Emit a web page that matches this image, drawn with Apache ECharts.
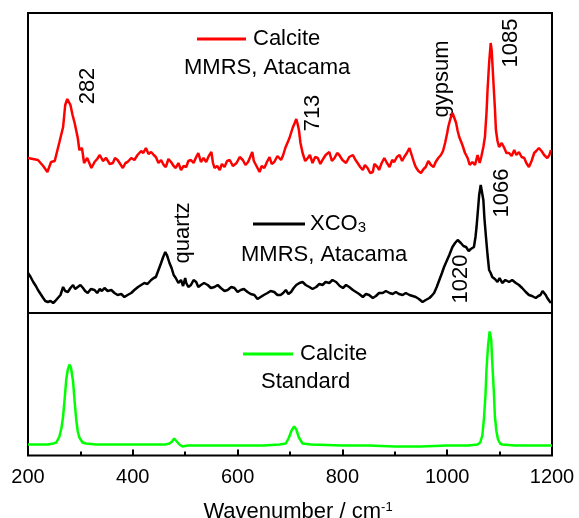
<!DOCTYPE html>
<html>
<head>
<meta charset="utf-8">
<script src="https://cdn.jsdelivr.net/npm/echarts@6/dist/echarts.min.js"></script>
<style>
html,body{margin:0;padding:0;background:#fff;}
#chart{width:579px;height:518px;}
</style>
</head>
<body>
<div id="chart"></div>
<script>
// ---------- data (wavenumber cm-1, relative intensity, offset spectra) ----------
const xTicks = [200, 400, 600, 800, 1000, 1200];

const calciteMMRS = [
[200,155],[219,153],[229,147],[237,141],[244,151],[251,152],[260,171],[267,186],[271,208],[275,214],[278,216],[281,208],
[285,198],[289,190],[295,175],[298,163],[303,165],[307,150],[313,155],[317,150],[321,145],[327,151],[332,154],[337,158],
[343,152],[349,155],[356,149],[362,150],[366,155],[371,153],[376,149],[381,145],[386,150],[390,151],[397,155],[403,153],
[409,158],[416,162],[420,160],[425,165],[430,159],[435,161],[440,158],[444,156],[449,150],[454,153],[459,148],[463,146],
[468,154],[473,151],[478,147],[482,145],[487,150],[492,143],[497,147],[502,146],[506,152],[511,153],[516,150],[521,156],
[525,160],[530,151],[535,155],[540,151],[545,157],[550,161],[553,150],[556,145],[561,147],[566,143],[570,149],[575,146],
[580,152],[585,153],[591,147],[598,150],[604,156],[610,153],[615,148],[620,151],[624,156],[628,161],[631,152],[634,150],
[638,145],[642,141],[646,147],[651,145],[656,151],[661,156],[665,149],[670,151],[676,157],[683,153],[687,158],[691,165],
[695,170],[699,175],[702,180],[705,185],[709,190],[712,194],[715,188],[717,183],[720,170],[724,160],[729,152],[734,155],
[738,158],[743,150],[748,156],[753,155],[758,149],[762,153],[768,158],[775,161],[780,152],[785,155],[790,160],[794,158],
[800,153],[807,150],[813,156],[820,158],[825,153],[829,150],[834,146],[839,143],[843,148],[848,145],[853,140],[858,141],
[861,149],[864,151],[867,146],[870,143],[875,150],[880,155],[885,150],[890,146],[895,153],[899,151],[904,156],[909,158],
[914,152],[918,156],[923,160],[928,165],[931,160],[934,155],[937,150],[940,146],[945,142],[950,140],[955,144],[959,146],
[964,152],[969,148],[974,146],[978,151],[983,155],[988,158],[992,162],[996,170],[1000,180],[1002,186],[1006,194],[1010,200],
[1013,196],[1017,190],[1020,182],[1023,176],[1026,172],[1029,168],[1034,160],[1039,155],[1043,148],[1048,151],[1053,148],
[1058,158],[1062,150],[1065,156],[1069,166],[1072,176],[1075,200],[1077,223],[1080,250],[1083,270],[1085,262],[1088,233],
[1091,205],[1093,183],[1096,172],[1099,166],[1104,170],[1109,165],[1113,160],[1118,160],[1123,157],[1128,163],[1132,158],
[1137,161],[1142,156],[1147,155],[1151,150],[1156,146],[1161,152],[1166,160],[1170,162],[1175,165],[1180,162],[1185,158],
[1191,155],[1195,158],[1198,163]
];

const xco3MMRS = [
[200,40],[205,36],[210,31],[215,27],[219,23],[224,19],[229,15],[233,12],[238,11],[243,12],[248,10],[252,12],[257,15],
[262,18],[267,26],[271,22],[276,21],[281,25],[286,28],[290,24],[295,26],[300,28],[305,25],[309,22],[314,20],[320,24],
[327,23],[332,20],[337,24],[341,22],[346,25],[352,22],[359,23],[365,20],[371,18],[378,19],[384,16],[390,18],[397,20],
[403,23],[410,26],[416,28],[422,30],[428,29],[435,33],[440,35],[444,36],[449,43],[454,50],[458,56],[462,61],[465,58],
[467,55],[470,50],[474,45],[478,38],[482,35],[487,30],[492,33],[496,27],[500,35],[502,30],[506,26],[511,28],[516,33],
[521,31],[525,26],[530,28],[536,30],[543,28],[549,25],[556,26],[562,28],[568,25],[575,22],[581,23],[588,26],[594,25],
[600,21],[606,23],[612,24],[619,21],[625,19],[632,18],[638,14],[644,16],[650,18],[657,20],[663,22],[670,21],[676,18],
[682,18],[687,20],[692,23],[697,19],[702,21],[707,25],[712,28],[718,30],[724,31],[730,28],[737,26],[743,24],[750,26],
[756,29],[762,28],[768,31],[775,30],[781,33],[788,31],[795,27],[801,25],[807,28],[813,26],[820,23],[826,21],[832,19],
[839,16],[845,19],[851,18],[858,15],[864,17],[870,20],[877,20],[883,22],[890,20],[896,19],[902,21],[908,19],[915,18],
[921,20],[928,18],[934,17],[940,16],[946,14],[953,11],[959,13],[966,15],[970,17],[975,20],[980,26],[985,33],[990,40],
[994,46],[999,52],[1004,58],[1007,62],[1010,66],[1015,70],[1020,73],[1023,71],[1026,70],[1031,67],[1036,66],[1041,62],
[1045,64],[1048,66],[1051,66],[1054,76],[1056,86],[1059,105],[1061,118],[1064,128],[1066,122],[1069,113],[1071,95],
[1074,76],[1077,58],[1080,43],[1083,40],[1086,36],[1091,34],[1096,31],[1100,35],[1105,30],[1111,33],[1118,31],[1124,33],
[1131,30],[1137,28],[1143,25],[1150,21],[1156,18],[1162,17],[1169,15],[1174,17],[1178,18],[1182,22],[1185,23],[1188,18],
[1191,15],[1195,12],[1198,10]
];

const calciteStandard = [
[200,11],[220,11],[238,11],[248,12],[254,13],[260,19],[264,28],[267,39],[270,57],[273,76],[276,86],[279,91],[282,88],
[286,74],[289,54],[292,36],[295,24],[298,18],[304,13],[311,12],[330,11],[360,11],[400,11],[440,11],[462,11],[470,12],
[475,14],[479,17],[484,14],[489,11],[495,9],[505,10],[550,10],[600,10],[650,10],[680,11],[692,12],[698,18],[703,25],
[708,29],[712,26],[717,18],[724,12],[740,11],[800,10],[850,10],[900,9],[950,9],[1000,10],[1040,10],[1058,11],[1063,13],
[1067,20],[1070,36],[1073,60],[1075,86],[1078,110],[1081,124],[1084,116],[1086,93],[1089,64],[1091,39],[1094,24],
[1097,16],[1101,12],[1105,11],[1130,10],[1160,10],[1200,10]
];

// annotation labels: [text, wavenumber, position in upper panel units]
const annotations = [
  ['282', 315, 227],
  ['713', 744, 200],
  ['gypsum', 990, 234],
  ['1085', 1122, 270],
  ['quartz', 495, 80],
  ['1020', 1027, 34],
  ['1066', 1104, 120]
];

// ---------- chart ----------
const FONT = "'Liberation Sans', Arial, sans-serif";
const chart = echarts.init(document.getElementById('chart'), null, {renderer: 'canvas'});

const gridCommon = {left: 28, right: 27, show: true, borderColor: '#000', borderWidth: 2,
                    backgroundColor: 'transparent', outerBoundsMode: 'none', containLabel: false};

const option = {
  animation: false,
  backgroundColor: '#fff',
  textStyle: {fontFamily: FONT},
  grid: [
    Object.assign({top: 13, height: 300}, gridCommon),
    Object.assign({top: 313, height: 142.5}, gridCommon)
  ],
  xAxis: [
    {gridIndex: 0, type: 'value', min: xTicks[0], max: xTicks[xTicks.length - 1], interval: 200,
     axisLine: {show: false}, axisTick: {show: false}, axisLabel: {show: false}, splitLine: {show: false}},
    {gridIndex: 1, type: 'value', min: xTicks[0], max: xTicks[xTicks.length - 1], interval: 200,
     axisLine: {show: false},
     axisTick: {show: true, inside: true, length: 6, lineStyle: {color: '#000', width: 2}},
     minorTick: {show: true, splitNumber: 2, length: 4, lineStyle: {color: '#000', width: 2}},
     axisLabel: {show: true, fontSize: 20, color: '#000', margin: 12, fontFamily: FONT,
                 showMinLabel: true, showMaxLabel: true, formatter: v => String(v)},
     splitLine: {show: false},
     name: '{a|Wavenumber / cm}{s|-1}',
     nameLocation: 'middle',
     nameGap: 45,
     nameTextStyle: {
       padding: [0, 0, 0, 16],
       rich: {
         a: {fontSize: 22, color: '#000', fontFamily: FONT},
         s: {fontSize: 13, color: '#000', fontFamily: FONT, padding: [0, 0, 10, 0]}
       }
     }}
  ],
  yAxis: [
    {gridIndex: 0, type: 'value', min: 0, max: 300, show: false},
    {gridIndex: 1, type: 'value', min: 0, max: 142.5, show: false}
  ],
  legend: [
    {left: 197, top: 28, padding: 0, itemWidth: 49, itemHeight: 3, icon: 'rect',
     data: ['Calcite MMRS'], formatter: () => 'Calcite',
     textStyle: {fontSize: 22, color: '#000', fontFamily: FONT, padding: [0, 0, 0, 2]}},
    {left: 253, top: 213, padding: 0, itemWidth: 52, itemHeight: 3, icon: 'rect',
     data: ['XCO3 MMRS'], formatter: () => '{a|XCO}{s|3}',
     textStyle: {color: '#000', fontFamily: FONT,
       rich: {a: {fontSize: 22, color: '#000', fontFamily: FONT},
              s: {fontSize: 15, color: '#000', fontFamily: FONT, padding: [8, 0, 0, 0]}}}},
    {left: 243, top: 343, padding: 0, itemWidth: 50, itemHeight: 3, icon: 'rect',
     data: ['Calcite Standard'], formatter: () => 'Calcite',
     textStyle: {fontSize: 22, color: '#000', fontFamily: FONT, padding: [0, 0, 0, 2]}}
  ],
  title: [
    {text: 'MMRS, Atacama', left: 184, top: 57, padding: 0,
     textStyle: {fontSize: 22, fontWeight: 'normal', color: '#000', fontFamily: FONT}},
    {text: 'MMRS, Atacama', left: 241, top: 244, padding: 0,
     textStyle: {fontSize: 22, fontWeight: 'normal', color: '#000', fontFamily: FONT}},
    {text: 'Standard', left: 261, top: 371, padding: 0,
     textStyle: {fontSize: 22, fontWeight: 'normal', color: '#000', fontFamily: FONT}}
  ],
  series: [
    {name: 'Calcite MMRS', type: 'line', xAxisIndex: 0, yAxisIndex: 0, data: calciteMMRS,
     symbol: 'none', color: '#ff0000', lineStyle: {color: '#ff0000', width: 2.5}, silent: true},
    {name: 'XCO3 MMRS', type: 'line', xAxisIndex: 0, yAxisIndex: 0, data: xco3MMRS,
     symbol: 'none', color: '#000000', lineStyle: {color: '#000000', width: 2.5}, silent: true},
    {name: 'Calcite Standard', type: 'line', xAxisIndex: 1, yAxisIndex: 1, data: calciteStandard,
     symbol: 'none', color: '#00ff00', lineStyle: {color: '#00ff00', width: 2.5}, silent: true},
    {name: 'annotations', type: 'scatter', xAxisIndex: 0, yAxisIndex: 0, symbolSize: 0, silent: true,
     itemStyle: {opacity: 1},
     data: annotations.map(a => ({value: [a[1], a[2]], labelText: a[0]})),
     label: {show: true, position: 'inside', rotate: 90, fontSize: 22, color: '#000', fontFamily: FONT,
             textBorderWidth: 0, opacity: 1,
             formatter: p => p.data.labelText}}
  ]
};
chart.setOption(option);
</script>
</body>
</html>
